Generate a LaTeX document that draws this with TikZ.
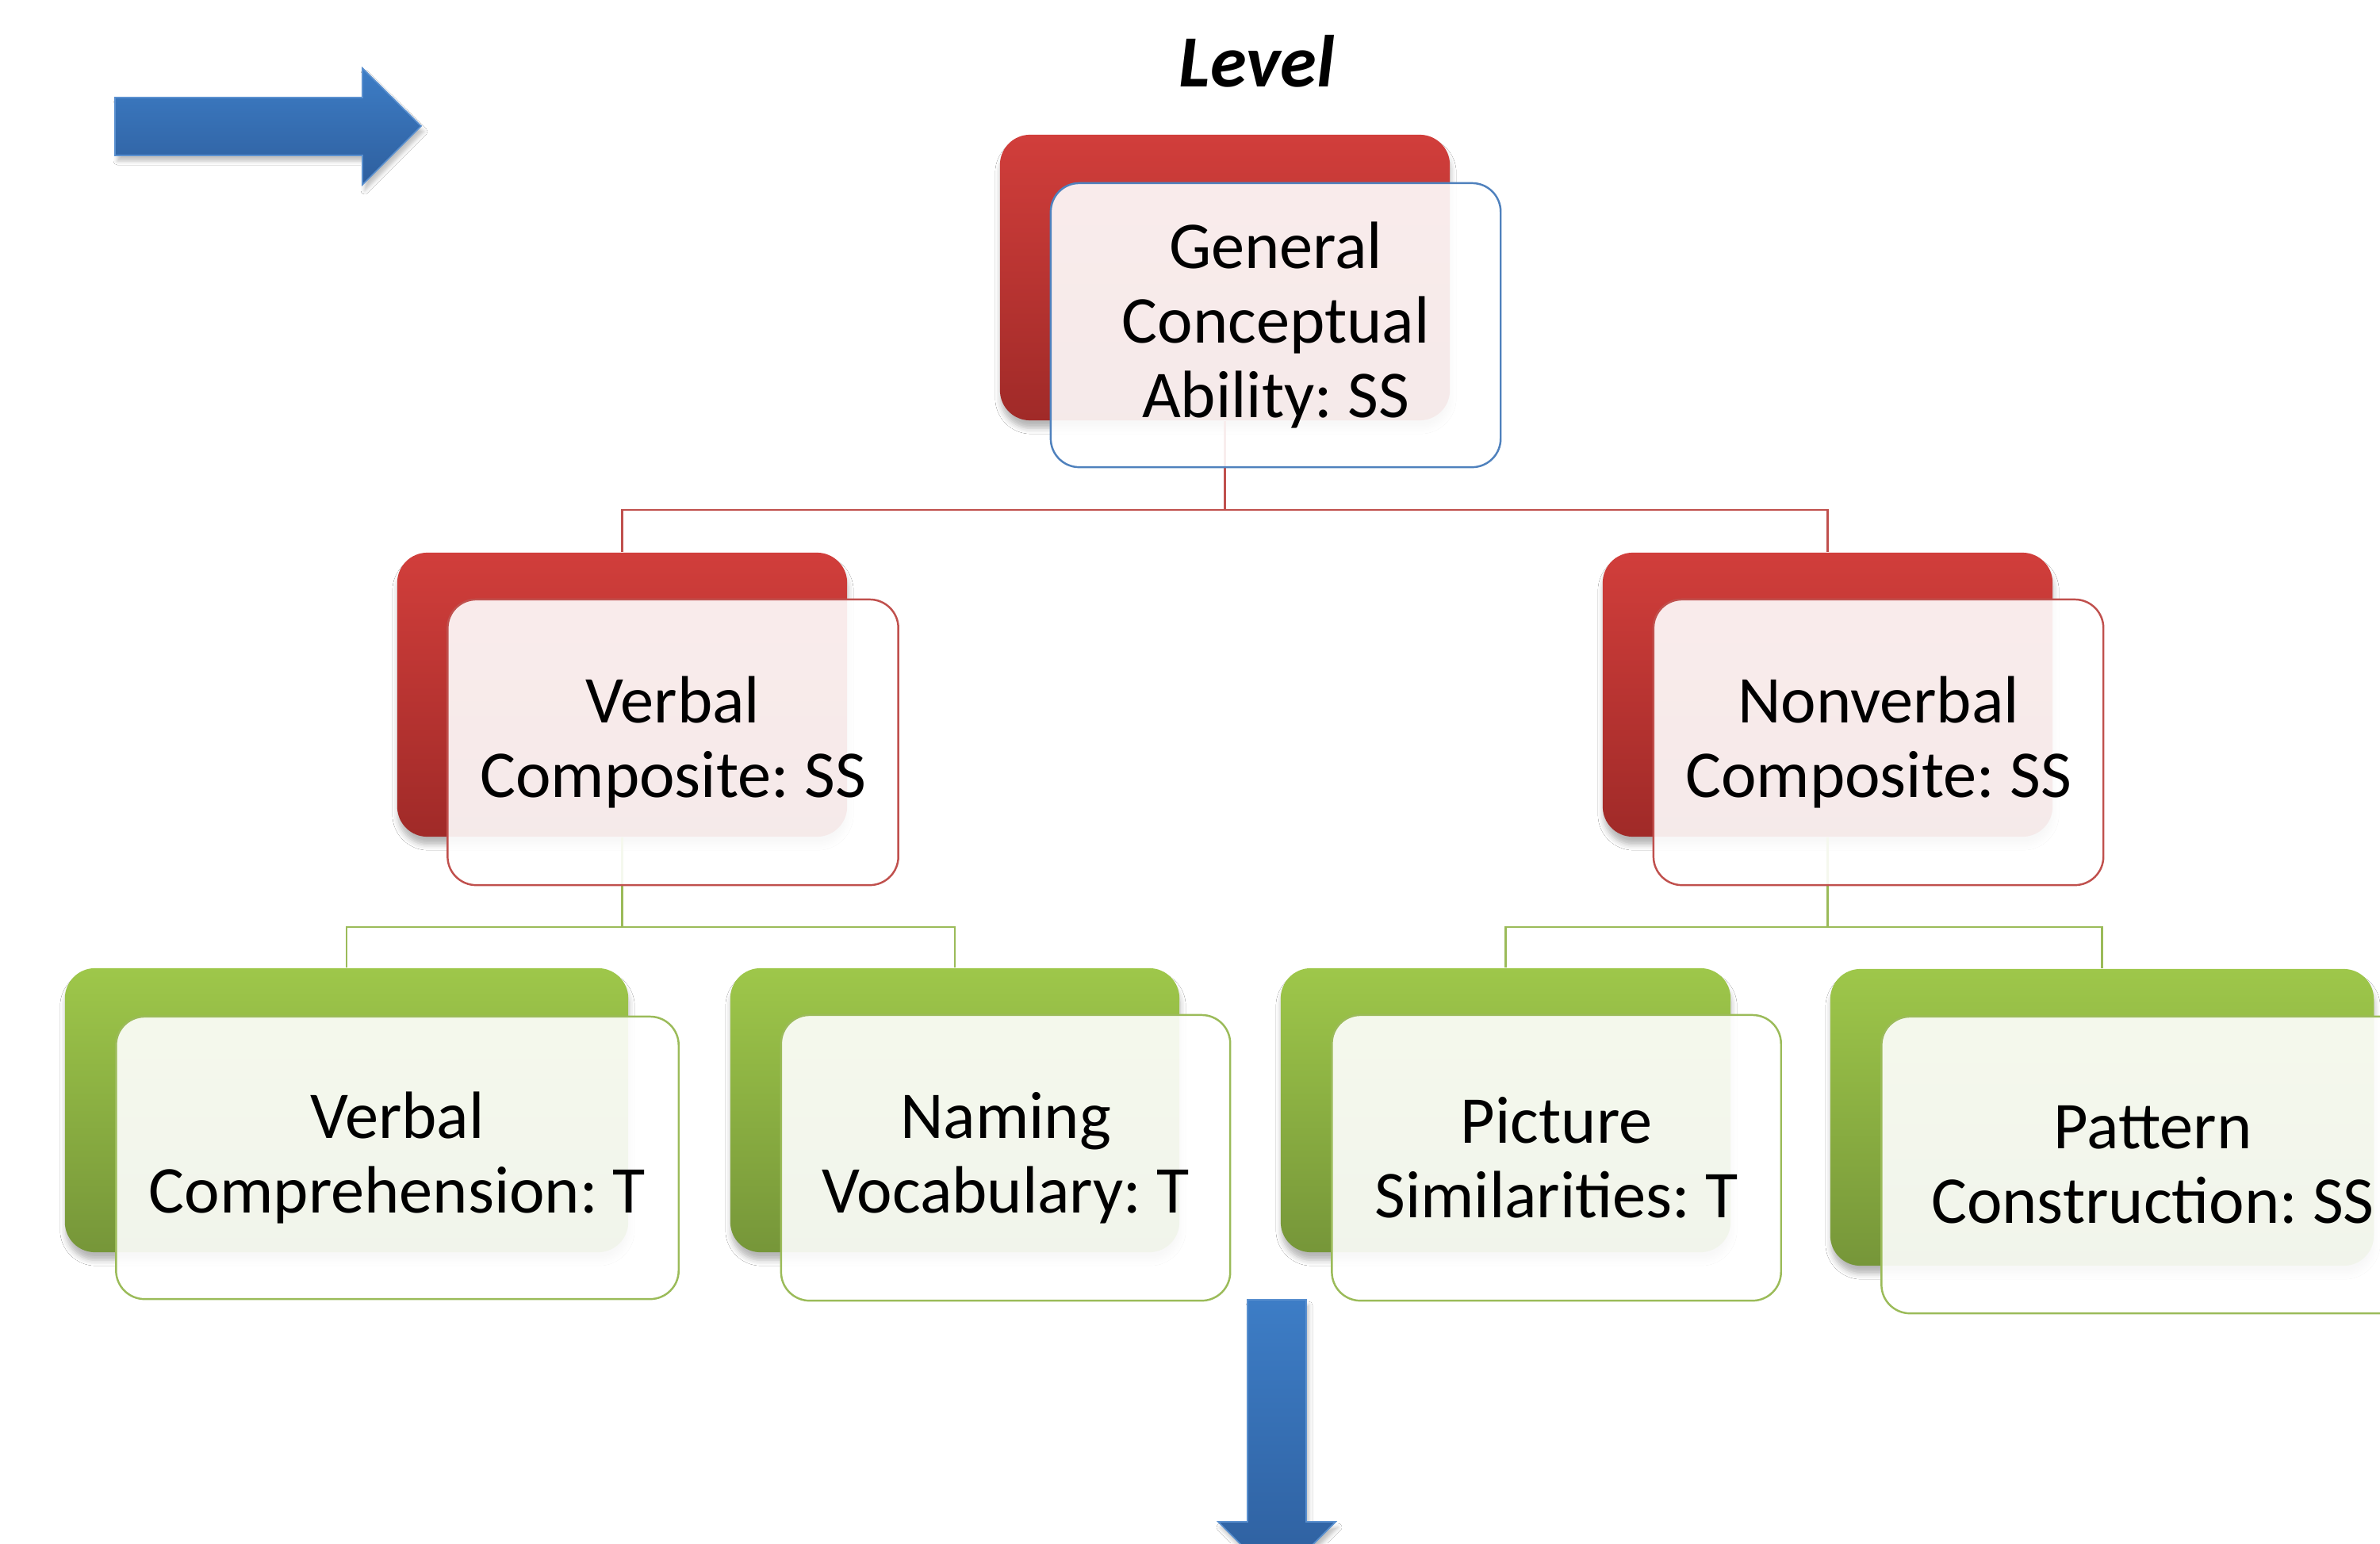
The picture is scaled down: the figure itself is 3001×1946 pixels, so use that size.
\documentclass[tikz,border=0pt]{standalone}
\usepackage{fontspec}
\setmainfont{Carlito}
\frenchspacing
\usetikzlibrary{shadows.blur}
\definecolor{redtop}{RGB}{209,62,59}
\definecolor{redbot}{RGB}{160,42,40}
\definecolor{greentop}{RGB}{158,199,74}
\definecolor{greenbot}{RGB}{118,150,57}
\definecolor{redline}{RGB}{192,80,77}
\definecolor{greenline}{RGB}{155,187,89}
\definecolor{blueline}{RGB}{79,129,189}
\definecolor{arrowtop}{RGB}{61,125,198}
\definecolor{arrowbot}{RGB}{46,95,158}
\tikzset{
  backbox/.style={rounded corners=0.38cm, inner sep=0pt, draw=none,
    blur shadow={shadow xshift=0.01cm, shadow yshift=-0.10cm, shadow blur radius=0.07cm, shadow opacity=28}},
  redback/.style={backbox, top color=redtop, bottom color=redbot},
  greenback/.style={backbox, top color=greentop, bottom color=greenbot},
  frontbox/.style={rounded corners=0.36cm, fill=white, fill opacity=0.9, text opacity=1,
    line width=0.7pt, align=center, inner sep=0pt, xshift=0.64cm, yshift=-0.60cm,
    font=\fontsize{24}{26.7}\selectfont\frenchspacing},
  bluefront/.style={frontbox, draw=blueline},
  redfront/.style={frontbox, draw=redline},
  greenfront/.style={frontbox, draw=greenline},
  redconn/.style={draw=redline, line width=0.75pt},
  greenconn/.style={draw=greenline, line width=0.75pt},
  bigarrow/.style={top color=arrowtop, bottom color=arrowbot, draw=arrowtop!85!white, line width=0.5pt,
    blur shadow={shadow xshift=0.03cm, shadow yshift=-0.07cm, shadow blur radius=0.05cm, shadow opacity=25}},
  titletext/.style={font=\fontsize{26.4}{31}\selectfont\bfseries\itshape, inner sep=0pt, anchor=base}
}
\begin{document}
\begin{tikzpicture}[x=0.01cm, y=-0.01cm]
\clip (0,0) rectangle (3001,1946);
\fill[white] (0,0) rectangle (3001,1946);

% title (second line, the only one visible)
\node[titletext] (title) at (1585,110) {Level};

% arrows
\path[bigarrow] (145,123) -- (457,123) -- (457,86) -- (531,159) -- (457,233) -- (457,196) -- (145,196) -- cycle;
\path[bigarrow] (1573,1639) -- (1647,1639) -- (1647,1919) -- (1684,1919) -- (1610,1993) -- (1536,1919) -- (1573,1919) -- cycle;

% back boxes
\node[redback, minimum width=5.67cm, minimum height=3.60cm] (gcab) at (1544.5,350) {};
\node[redback, minimum width=5.67cm, minimum height=3.58cm] (vcb) at (784.5,876) {};
\node[redback, minimum width=5.67cm, minimum height=3.58cm] (nvcb) at (2304.5,876) {};
\node[greenback, minimum width=7.10cm, minimum height=3.58cm] (vcompb) at (437,1400) {};
\node[greenback, minimum width=5.66cm, minimum height=3.58cm] (namb) at (1204,1400) {};
\node[greenback, minimum width=5.67cm, minimum height=3.58cm] (picb) at (1898.5,1400) {};
\node[greenback, minimum width=6.85cm, minimum height=3.74cm] (patb) at (2650.5,1409) {};

% connectors
\coordinate (h1) at (0,643);
\coordinate (h2) at (0,1169);
\draw[redconn] (gcab.south) -- (gcab.south |- h1) -| (vcb.north);
\draw[redconn] (gcab.south |- h1) -| (nvcb.north);
\draw[greenconn] (vcb.south) -- (vcb.south |- h2) -| (vcompb.north);
\draw[greenconn] (vcb.south |- h2) -| (namb.north);
\draw[greenconn] (nvcb.south) -- (nvcb.south |- h2) -| (picb.north);
\draw[greenconn] (nvcb.south |- h2) -| (patb.north);

% front boxes
\node[bluefront, minimum width=5.67cm, minimum height=3.58cm] (gca) at (gcab.center) {General\\Conceptual\\Ability: SS};
\node[redfront, minimum width=5.68cm, minimum height=3.60cm] (vc) at (vcb.center) {Verbal\\Composite: SS};
\node[redfront, minimum width=5.67cm, minimum height=3.60cm] (nvc) at (nvcb.center) {Nonverbal\\Composite: SS};
\node[greenfront, minimum width=7.09cm, minimum height=3.56cm] (vcomp) at (vcompb.center) {Verbal\\Comprehension: T};
\node[greenfront, minimum width=5.66cm, minimum height=3.60cm] (nam) at (namb.center) {Naming\\Vocabulary: T};
\node[greenfront, minimum width=5.66cm, minimum height=3.60cm] (pic) at (picb.center) {Picture\\Similarities: T};
\node[greenfront, minimum width=6.84cm, minimum height=3.74cm] (pat) at (patb.center) {Pattern\\Construction: SS};
\end{tikzpicture}
\end{document}
